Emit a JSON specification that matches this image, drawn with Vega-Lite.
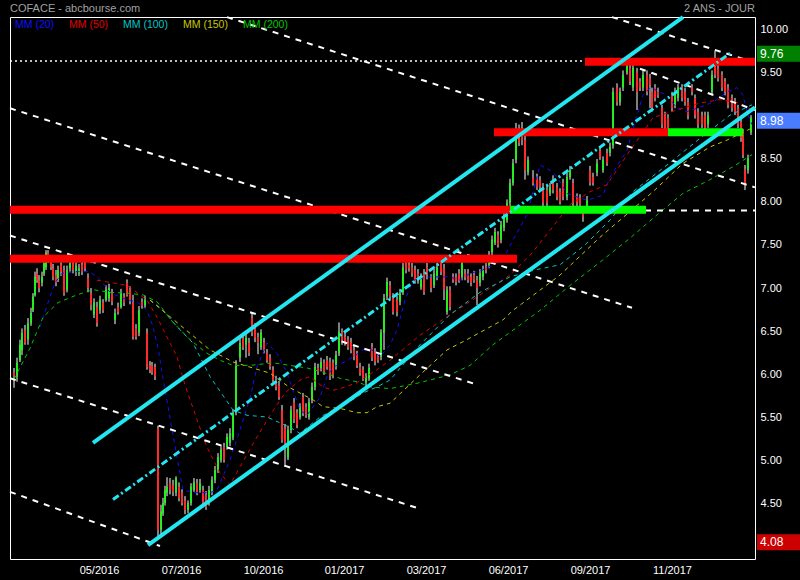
{
  "$schema": "https://vega.github.io/schema/vega-lite/v6.json",
  "width": 745,
  "height": 542,
  "autosize": "none",
  "padding": {"left": 10, "top": 17, "right": 45, "bottom": 21},
  "background": "black",
  "config": {
    "view": {"stroke": "white", "strokeWidth": 1},
    "axis": {"domain": false, "ticks": false, "grid": false, "labelColor": "white", "labelFont": "Liberation Sans", "labelFontSize": 11, "title": null}
  },
  "data": {"values": [{}]},
  "datasets": {
    "candles": [
      {"i":14,"o":6.02,"h":6.07,"l":5.84,"c":5.97},
      {"i":17,"o":5.97,"h":6.19,"l":5.91,"c":6.13},
      {"i":20,"o":6.16,"h":6.40,"l":6.14,"c":6.34},
      {"i":22,"o":6.28,"h":6.53,"l":6.22,"c":6.48},
      {"i":25,"o":6.51,"h":6.57,"l":6.34,"c":6.36},
      {"i":28,"o":6.40,"h":6.65,"l":6.34,"c":6.59},
      {"i":31,"o":6.59,"h":6.77,"l":6.56,"c":6.71},
      {"i":33,"o":6.74,"h":6.94,"l":6.72,"c":6.90},
      {"i":35,"o":6.92,"h":7.19,"l":6.90,"c":7.13},
      {"i":37,"o":7.17,"h":7.23,"l":7.06,"c":7.09},
      {"i":39,"o":7.09,"h":7.15,"l":6.95,"c":7.00},
      {"i":42,"o":7.06,"h":7.19,"l":7.02,"c":7.13},
      {"i":44,"o":7.17,"h":7.35,"l":7.14,"c":7.29},
      {"i":46,"o":7.24,"h":7.44,"l":7.21,"c":7.41},
      {"i":48,"o":7.41,"h":7.44,"l":7.29,"c":7.33},
      {"i":51,"o":7.30,"h":7.35,"l":7.21,"c":7.24},
      {"i":53,"o":7.23,"h":7.28,"l":7.09,"c":7.13},
      {"i":56,"o":7.15,"h":7.21,"l":7.02,"c":7.06},
      {"i":58,"o":7.09,"h":7.26,"l":7.07,"c":7.21},
      {"i":61,"o":7.27,"h":7.30,"l":7.14,"c":7.19},
      {"i":64,"o":7.21,"h":7.26,"l":6.91,"c":6.94},
      {"i":67,"o":6.98,"h":7.26,"l":6.95,"c":7.21},
      {"i":70,"o":7.23,"h":7.35,"l":7.19,"c":7.29},
      {"i":73,"o":7.29,"h":7.35,"l":7.17,"c":7.21},
      {"i":76,"o":7.19,"h":7.30,"l":7.14,"c":7.26},
      {"i":79,"o":7.17,"h":7.28,"l":7.14,"c":7.23},
      {"i":82,"o":7.27,"h":7.33,"l":7.15,"c":7.19},
      {"i":85,"o":7.29,"h":7.33,"l":7.19,"c":7.23},
      {"i":88,"o":7.12,"h":7.17,"l":6.95,"c":7.00},
      {"i":91,"o":6.94,"h":7.00,"l":6.74,"c":6.80},
      {"i":94,"o":6.69,"h":6.88,"l":6.65,"c":6.83},
      {"i":97,"o":6.78,"h":6.84,"l":6.55,"c":6.59},
      {"i":100,"o":6.74,"h":6.91,"l":6.70,"c":6.86},
      {"i":103,"o":6.83,"h":6.87,"l":6.71,"c":6.74},
      {"i":106,"o":6.86,"h":7.03,"l":6.84,"c":6.98},
      {"i":109,"o":6.88,"h":7.05,"l":6.84,"c":7.00},
      {"i":112,"o":6.94,"h":6.99,"l":6.80,"c":6.84},
      {"i":115,"o":6.63,"h":6.76,"l":6.58,"c":6.71},
      {"i":118,"o":6.78,"h":6.83,"l":6.69,"c":6.72},
      {"i":121,"o":6.78,"h":6.99,"l":6.76,"c":6.94},
      {"i":124,"o":6.90,"h":6.94,"l":6.79,"c":6.83},
      {"i":127,"o":7.06,"h":7.10,"l":6.90,"c":6.92},
      {"i":130,"o":6.98,"h":7.02,"l":6.81,"c":6.86},
      {"i":133,"o":6.83,"h":6.92,"l":6.40,"c":6.43},
      {"i":136,"o":6.53,"h":6.58,"l":6.40,"c":6.43},
      {"i":139,"o":6.48,"h":6.79,"l":6.44,"c":6.74},
      {"i":142,"o":6.84,"h":6.88,"l":6.76,"c":6.79},
      {"i":145,"o":6.80,"h":6.91,"l":6.77,"c":6.86},
      {"i":147,"o":6.48,"h":6.53,"l":6.05,"c":6.08},
      {"i":150,"o":6.10,"h":6.15,"l":6.01,"c":6.05},
      {"i":152,"o":6.10,"h":6.14,"l":5.99,"c":6.02},
      {"i":155,"o":6.08,"h":6.12,"l":5.93,"c":5.97},
      {"i":158,"o":5.37,"h":5.40,"l":4.08,"c":4.19},
      {"i":161,"o":4.19,"h":4.48,"l":4.10,"c":4.40},
      {"i":163,"o":4.38,"h":4.56,"l":4.35,"c":4.50},
      {"i":165,"o":4.50,"h":4.70,"l":4.47,"c":4.65},
      {"i":167,"o":4.62,"h":4.80,"l":4.58,"c":4.69},
      {"i":170,"o":4.73,"h":4.79,"l":4.60,"c":4.65},
      {"i":173,"o":4.71,"h":4.77,"l":4.58,"c":4.63},
      {"i":176,"o":4.62,"h":4.81,"l":4.58,"c":4.79},
      {"i":179,"o":4.69,"h":4.74,"l":4.52,"c":4.56},
      {"i":182,"o":4.62,"h":4.66,"l":4.47,"c":4.50},
      {"i":185,"o":4.53,"h":4.58,"l":4.37,"c":4.42},
      {"i":188,"o":4.42,"h":4.53,"l":4.38,"c":4.50},
      {"i":191,"o":4.50,"h":4.73,"l":4.47,"c":4.69},
      {"i":194,"o":4.65,"h":4.79,"l":4.63,"c":4.74},
      {"i":197,"o":4.73,"h":4.78,"l":4.59,"c":4.63},
      {"i":200,"o":4.65,"h":4.78,"l":4.62,"c":4.73},
      {"i":203,"o":4.65,"h":4.70,"l":4.47,"c":4.50},
      {"i":206,"o":4.59,"h":4.64,"l":4.42,"c":4.45},
      {"i":209,"o":4.50,"h":4.70,"l":4.47,"c":4.65},
      {"i":212,"o":4.63,"h":4.81,"l":4.59,"c":4.77},
      {"i":215,"o":4.77,"h":4.93,"l":4.73,"c":4.88},
      {"i":218,"o":4.88,"h":5.08,"l":4.85,"c":5.03},
      {"i":221,"o":5.00,"h":5.16,"l":4.97,"c":5.12},
      {"i":224,"o":5.15,"h":5.20,"l":4.97,"c":5.00},
      {"i":227,"o":5.15,"h":5.31,"l":5.12,"c":5.27},
      {"i":230,"o":5.20,"h":5.37,"l":5.16,"c":5.31},
      {"i":233,"o":5.26,"h":5.59,"l":5.23,"c":5.55},
      {"i":236,"o":5.58,"h":6.16,"l":5.52,"c":6.10},
      {"i":240,"o":6.19,"h":6.42,"l":6.14,"c":6.36},
      {"i":243,"o":6.42,"h":6.48,"l":6.28,"c":6.31},
      {"i":246,"o":6.34,"h":6.47,"l":6.19,"c":6.42},
      {"i":249,"o":6.36,"h":6.42,"l":6.21,"c":6.24},
      {"i":252,"o":6.65,"h":6.72,"l":6.44,"c":6.48},
      {"i":255,"o":6.53,"h":6.59,"l":6.37,"c":6.42},
      {"i":258,"o":6.43,"h":6.48,"l":6.23,"c":6.36},
      {"i":261,"o":6.31,"h":6.52,"l":6.28,"c":6.48},
      {"i":264,"o":6.37,"h":6.42,"l":6.24,"c":6.28},
      {"i":267,"o":6.24,"h":6.29,"l":6.13,"c":6.16},
      {"i":270,"o":6.19,"h":6.23,"l":6.05,"c":6.08},
      {"i":273,"o":6.05,"h":6.09,"l":5.90,"c":5.93},
      {"i":276,"o":5.93,"h":5.98,"l":5.81,"c":5.85},
      {"i":279,"o":5.87,"h":5.92,"l":5.70,"c":5.73},
      {"i":282,"o":5.58,"h":5.64,"l":5.20,"c":5.23},
      {"i":285,"o":5.37,"h":5.42,"l":4.92,"c":5.15},
      {"i":288,"o":5.03,"h":5.40,"l":5.00,"c":5.35},
      {"i":291,"o":5.35,"h":5.63,"l":5.31,"c":5.58},
      {"i":294,"o":5.67,"h":5.72,"l":5.43,"c":5.47},
      {"i":297,"o":5.55,"h":5.59,"l":5.37,"c":5.41},
      {"i":300,"o":5.50,"h":5.66,"l":5.47,"c":5.62},
      {"i":303,"o":5.73,"h":5.78,"l":5.51,"c":5.55},
      {"i":306,"o":5.62,"h":5.66,"l":5.49,"c":5.52},
      {"i":309,"o":5.50,"h":5.72,"l":5.47,"c":5.67},
      {"i":312,"o":5.70,"h":5.90,"l":5.66,"c":5.85},
      {"i":315,"o":5.85,"h":6.13,"l":5.81,"c":6.08},
      {"i":318,"o":6.07,"h":6.12,"l":5.99,"c":6.02},
      {"i":321,"o":6.07,"h":6.19,"l":6.03,"c":6.14},
      {"i":324,"o":6.13,"h":6.17,"l":5.99,"c":6.02},
      {"i":327,"o":6.16,"h":6.21,"l":6.05,"c":6.08},
      {"i":330,"o":6.14,"h":6.19,"l":5.93,"c":5.97},
      {"i":333,"o":6.13,"h":6.17,"l":5.95,"c":5.99},
      {"i":336,"o":6.08,"h":6.27,"l":6.05,"c":6.22},
      {"i":339,"o":6.24,"h":6.60,"l":6.21,"c":6.49},
      {"i":342,"o":6.49,"h":6.53,"l":6.34,"c":6.37},
      {"i":345,"o":6.43,"h":6.48,"l":6.33,"c":6.36},
      {"i":348,"o":6.40,"h":6.44,"l":6.28,"c":6.31},
      {"i":351,"o":6.37,"h":6.42,"l":6.24,"c":6.28},
      {"i":354,"o":6.28,"h":6.33,"l":6.16,"c":6.20},
      {"i":357,"o":6.22,"h":6.27,"l":6.07,"c":6.10},
      {"i":360,"o":6.08,"h":6.13,"l":5.98,"c":6.01},
      {"i":363,"o":6.05,"h":6.09,"l":5.92,"c":5.95},
      {"i":366,"o":5.90,"h":6.01,"l":5.86,"c":5.97},
      {"i":369,"o":5.95,"h":6.12,"l":5.92,"c":6.07},
      {"i":372,"o":6.31,"h":6.36,"l":6.15,"c":6.19},
      {"i":375,"o":6.26,"h":6.30,"l":6.10,"c":6.14},
      {"i":378,"o":6.20,"h":6.24,"l":6.13,"c":6.16},
      {"i":381,"o":6.20,"h":6.52,"l":6.16,"c":6.48},
      {"i":384,"o":6.48,"h":6.93,"l":6.28,"c":6.88},
      {"i":387,"o":6.90,"h":7.12,"l":6.86,"c":7.07},
      {"i":390,"o":7.03,"h":7.08,"l":6.86,"c":6.90},
      {"i":393,"o":6.90,"h":6.94,"l":6.69,"c":6.72},
      {"i":397,"o":6.86,"h":6.91,"l":6.67,"c":6.72},
      {"i":400,"o":6.84,"h":6.99,"l":6.80,"c":6.94},
      {"i":403,"o":6.95,"h":7.29,"l":6.92,"c":7.24},
      {"i":406,"o":7.29,"h":7.34,"l":7.17,"c":7.21},
      {"i":409,"o":7.27,"h":7.31,"l":7.19,"c":7.23},
      {"i":412,"o":7.24,"h":7.29,"l":7.13,"c":7.17},
      {"i":415,"o":7.21,"h":7.26,"l":7.05,"c":7.09},
      {"i":418,"o":7.17,"h":7.22,"l":7.05,"c":7.09},
      {"i":421,"o":7.01,"h":7.17,"l":6.98,"c":7.13},
      {"i":424,"o":7.17,"h":7.22,"l":6.92,"c":6.95},
      {"i":427,"o":7.24,"h":7.29,"l":7.10,"c":7.15},
      {"i":431,"o":7.12,"h":7.16,"l":6.95,"c":7.00},
      {"i":434,"o":7.03,"h":7.22,"l":7.00,"c":7.17},
      {"i":437,"o":7.13,"h":7.29,"l":7.09,"c":7.24},
      {"i":441,"o":7.29,"h":7.34,"l":7.15,"c":7.19},
      {"i":444,"o":7.23,"h":7.28,"l":6.86,"c":6.98},
      {"i":447,"o":6.72,"h":7.02,"l":6.69,"c":6.98},
      {"i":450,"o":6.98,"h":7.02,"l":6.74,"c":6.78},
      {"i":453,"o":7.13,"h":7.17,"l":7.06,"c":7.09},
      {"i":456,"o":7.13,"h":7.17,"l":7.03,"c":7.07},
      {"i":459,"o":7.17,"h":7.22,"l":7.06,"c":7.09},
      {"i":462,"o":7.13,"h":7.34,"l":7.09,"c":7.29},
      {"i":465,"o":7.17,"h":7.22,"l":7.09,"c":7.13},
      {"i":468,"o":7.17,"h":7.22,"l":7.06,"c":7.09},
      {"i":471,"o":7.13,"h":7.17,"l":7.02,"c":7.06},
      {"i":474,"o":7.15,"h":7.20,"l":7.06,"c":7.09},
      {"i":477,"o":7.09,"h":7.14,"l":6.80,"c":7.00},
      {"i":480,"o":7.06,"h":7.22,"l":7.02,"c":7.17},
      {"i":483,"o":7.13,"h":7.26,"l":7.09,"c":7.21},
      {"i":486,"o":7.24,"h":7.29,"l":7.17,"c":7.21},
      {"i":489,"o":7.27,"h":7.43,"l":7.23,"c":7.38},
      {"i":492,"o":7.42,"h":7.61,"l":7.38,"c":7.56},
      {"i":495,"o":7.53,"h":7.70,"l":7.50,"c":7.65},
      {"i":498,"o":7.62,"h":7.66,"l":7.47,"c":7.50},
      {"i":501,"o":7.56,"h":7.78,"l":7.52,"c":7.73},
      {"i":504,"o":7.70,"h":7.90,"l":7.66,"c":7.85},
      {"i":507,"o":7.79,"h":8.03,"l":7.76,"c":7.99},
      {"i":510,"o":7.99,"h":8.27,"l":7.95,"c":8.22},
      {"i":513,"o":8.22,"h":8.50,"l":8.19,"c":8.45},
      {"i":516,"o":8.49,"h":8.92,"l":8.45,"c":8.78},
      {"i":519,"o":8.76,"h":8.90,"l":8.65,"c":8.69},
      {"i":522,"o":8.84,"h":8.93,"l":8.66,"c":8.72},
      {"i":525,"o":8.72,"h":8.84,"l":8.26,"c":8.37},
      {"i":528,"o":8.35,"h":8.53,"l":8.31,"c":8.49},
      {"i":533,"o":8.28,"h":8.37,"l":8.19,"c":8.22},
      {"i":537,"o":8.28,"h":8.33,"l":8.14,"c":8.17},
      {"i":540,"o":8.26,"h":8.30,"l":8.14,"c":8.17},
      {"i":543,"o":8.17,"h":8.22,"l":7.95,"c":7.99},
      {"i":547,"o":8.14,"h":8.19,"l":7.95,"c":7.99},
      {"i":550,"o":8.10,"h":8.22,"l":8.07,"c":8.17},
      {"i":553,"o":8.22,"h":8.31,"l":8.10,"c":8.14},
      {"i":557,"o":8.17,"h":8.22,"l":8.02,"c":8.06},
      {"i":560,"o":8.12,"h":8.16,"l":7.97,"c":8.00},
      {"i":563,"o":8.22,"h":8.27,"l":8.02,"c":8.06},
      {"i":567,"o":8.06,"h":8.34,"l":8.02,"c":8.29},
      {"i":570,"o":8.29,"h":8.42,"l":8.26,"c":8.37},
      {"i":573,"o":8.22,"h":8.27,"l":7.95,"c":7.99},
      {"i":577,"o":8.06,"h":8.10,"l":7.95,"c":7.99},
      {"i":580,"o":8.05,"h":8.09,"l":7.93,"c":7.97},
      {"i":583,"o":7.91,"h":7.95,"l":7.77,"c":7.83},
      {"i":587,"o":7.94,"h":8.07,"l":7.91,"c":8.02},
      {"i":590,"o":8.37,"h":8.42,"l":8.19,"c":8.22},
      {"i":593,"o":8.29,"h":8.34,"l":8.19,"c":8.22},
      {"i":597,"o":8.34,"h":8.50,"l":8.30,"c":8.45},
      {"i":600,"o":8.60,"h":8.65,"l":8.49,"c":8.52},
      {"i":603,"o":8.37,"h":8.53,"l":8.34,"c":8.49},
      {"i":607,"o":8.57,"h":8.62,"l":8.42,"c":8.45},
      {"i":610,"o":8.57,"h":8.69,"l":8.53,"c":8.64},
      {"i":613,"o":8.66,"h":9.33,"l":8.62,"c":9.28},
      {"i":617,"o":9.33,"h":9.38,"l":9.12,"c":9.16},
      {"i":620,"o":9.16,"h":9.33,"l":9.12,"c":9.28},
      {"i":623,"o":9.33,"h":9.53,"l":9.29,"c":9.48},
      {"i":627,"o":9.51,"h":9.64,"l":9.48,"c":9.59},
      {"i":630,"o":9.56,"h":9.61,"l":9.36,"c":9.40},
      {"i":633,"o":9.33,"h":9.61,"l":9.29,"c":9.56},
      {"i":637,"o":9.51,"h":9.56,"l":9.07,"c":9.28},
      {"i":640,"o":9.40,"h":9.44,"l":9.29,"c":9.33},
      {"i":643,"o":9.33,"h":9.53,"l":9.29,"c":9.48},
      {"i":647,"o":9.48,"h":9.53,"l":9.24,"c":9.28},
      {"i":650,"o":9.44,"h":9.49,"l":9.09,"c":9.36},
      {"i":652,"o":9.28,"h":9.33,"l":9.05,"c":9.09},
      {"i":655,"o":9.33,"h":9.37,"l":9.17,"c":9.21},
      {"i":658,"o":9.28,"h":9.33,"l":9.21,"c":9.24},
      {"i":662,"o":9.09,"h":9.13,"l":8.86,"c":8.90},
      {"i":665,"o":9.01,"h":9.05,"l":8.83,"c":8.86},
      {"i":668,"o":8.98,"h":9.02,"l":8.83,"c":8.86},
      {"i":672,"o":9.24,"h":9.28,"l":9.05,"c":9.09},
      {"i":675,"o":9.13,"h":9.33,"l":9.09,"c":9.28},
      {"i":678,"o":9.21,"h":9.37,"l":9.17,"c":9.33},
      {"i":682,"o":9.33,"h":9.37,"l":9.17,"c":9.21},
      {"i":685,"o":9.28,"h":9.33,"l":9.12,"c":9.16},
      {"i":688,"o":9.16,"h":9.21,"l":8.96,"c":9.01},
      {"i":692,"o":9.33,"h":9.37,"l":9.24,"c":9.28},
      {"i":695,"o":9.21,"h":9.25,"l":8.97,"c":9.01},
      {"i":698,"o":9.05,"h":9.09,"l":8.86,"c":8.90},
      {"i":702,"o":9.01,"h":9.05,"l":8.86,"c":8.90},
      {"i":705,"o":9.01,"h":9.05,"l":8.83,"c":8.86},
      {"i":708,"o":8.90,"h":9.05,"l":8.86,"c":9.01},
      {"i":712,"o":9.28,"h":9.53,"l":9.24,"c":9.48},
      {"i":715,"o":9.59,"h":9.76,"l":9.44,"c":9.48},
      {"i":718,"o":9.56,"h":9.60,"l":9.40,"c":9.44},
      {"i":722,"o":9.48,"h":9.52,"l":9.29,"c":9.33},
      {"i":725,"o":9.40,"h":9.44,"l":9.24,"c":9.28},
      {"i":728,"o":9.33,"h":9.37,"l":9.09,"c":9.13},
      {"i":732,"o":9.21,"h":9.25,"l":9.05,"c":9.09},
      {"i":735,"o":9.16,"h":9.21,"l":9.01,"c":9.05},
      {"i":738,"o":9.09,"h":9.13,"l":8.86,"c":8.90},
      {"i":741,"o":8.93,"h":8.97,"l":8.70,"c":8.74},
      {"i":743,"o":8.81,"h":8.85,"l":8.51,"c":8.55},
      {"i":745,"o":8.38,"h":8.43,"l":8.14,"c":8.20},
      {"i":748,"o":8.37,"h":8.55,"l":8.33,"c":8.51},
      {"i":751,"o":8.81,"h":9.01,"l":8.78,"c":8.98}
    ],
    "ma": [
      {"m":"MM20","i":40,"p":6.55},{"m":"MM20","i":45,"p":6.72},{"m":"MM20","i":50,"p":6.90},{"m":"MM20","i":55,"p":7.06},{"m":"MM20","i":62,"p":7.17},{"m":"MM20","i":75,"p":7.19},{"m":"MM20","i":88,"p":7.19},{"m":"MM20","i":95,"p":7.15},{"m":"MM20","i":102,"p":7.07},{"m":"MM20","i":110,"p":6.95},{"m":"MM20","i":127,"p":6.86},{"m":"MM20","i":137,"p":6.84},{"m":"MM20","i":147,"p":6.74},{"m":"MM20","i":153,"p":6.55},{"m":"MM20","i":158,"p":6.31},{"m":"MM20","i":163,"p":5.95},{"m":"MM20","i":170,"p":5.49},{"m":"MM20","i":177,"p":5.03},{"m":"MM20","i":183,"p":4.65},{"m":"MM20","i":195,"p":4.62},{"m":"MM20","i":210,"p":4.62},{"m":"MM20","i":217,"p":4.65},{"m":"MM20","i":230,"p":5.00},{"m":"MM20","i":240,"p":5.35},{"m":"MM20","i":250,"p":5.72},{"m":"MM20","i":257,"p":6.08},{"m":"MM20","i":267,"p":6.36},{"m":"MM20","i":277,"p":6.24},{"m":"MM20","i":287,"p":6.01},{"m":"MM20","i":293,"p":5.81},{"m":"MM20","i":300,"p":5.58},{"m":"MM20","i":307,"p":5.52},{"m":"MM20","i":320,"p":5.73},{"m":"MM20","i":327,"p":5.97},{"m":"MM20","i":333,"p":6.08},{"m":"MM20","i":343,"p":6.13},{"m":"MM20","i":353,"p":6.20},{"m":"MM20","i":363,"p":6.28},{"m":"MM20","i":372,"p":6.28},{"m":"MM20","i":380,"p":6.20},{"m":"MM20","i":390,"p":6.34},{"m":"MM20","i":397,"p":6.51},{"m":"MM20","i":405,"p":6.86},{"m":"MM20","i":413,"p":7.09},{"m":"MM20","i":430,"p":7.13},{"m":"MM20","i":450,"p":7.13},{"m":"MM20","i":460,"p":7.09},{"m":"MM20","i":470,"p":7.17},{"m":"MM20","i":483,"p":7.21},{"m":"MM20","i":503,"p":7.33},{"m":"MM20","i":513,"p":7.56},{"m":"MM20","i":527,"p":7.85},{"m":"MM20","i":540,"p":8.43},{"m":"MM20","i":550,"p":8.37},{"m":"MM20","i":557,"p":8.29},{"m":"MM20","i":567,"p":8.10},{"m":"MM20","i":577,"p":8.06},{"m":"MM20","i":587,"p":8.02},{"m":"MM20","i":603,"p":8.08},{"m":"MM20","i":610,"p":8.29},{"m":"MM20","i":627,"p":8.60},{"m":"MM20","i":637,"p":9.01},{"m":"MM20","i":643,"p":9.24},{"m":"MM20","i":650,"p":9.33},{"m":"MM20","i":667,"p":9.24},{"m":"MM20","i":677,"p":9.09},{"m":"MM20","i":687,"p":9.05},{"m":"MM20","i":697,"p":9.09},{"m":"MM20","i":713,"p":9.16},{"m":"MM20","i":727,"p":9.28},{"m":"MM20","i":737,"p":9.33},{"m":"MM20","i":743,"p":9.24},{"m":"MM20","i":748,"p":9.01},{"m":"MM20","i":752,"p":8.90},
      {"m":"MM50","i":97,"p":7.09},{"m":"MM50","i":113,"p":7.06},{"m":"MM50","i":127,"p":7.03},{"m":"MM50","i":133,"p":6.98},{"m":"MM50","i":147,"p":6.86},{"m":"MM50","i":157,"p":6.66},{"m":"MM50","i":167,"p":6.43},{"m":"MM50","i":177,"p":6.20},{"m":"MM50","i":185,"p":5.87},{"m":"MM50","i":197,"p":5.47},{"m":"MM50","i":207,"p":5.15},{"m":"MM50","i":220,"p":4.85},{"m":"MM50","i":230,"p":4.71},{"m":"MM50","i":240,"p":4.92},{"m":"MM50","i":255,"p":5.23},{"m":"MM50","i":270,"p":5.52},{"m":"MM50","i":285,"p":5.78},{"m":"MM50","i":300,"p":5.93},{"m":"MM50","i":310,"p":5.97},{"m":"MM50","i":323,"p":5.85},{"m":"MM50","i":333,"p":5.81},{"m":"MM50","i":343,"p":5.84},{"m":"MM50","i":357,"p":5.90},{"m":"MM50","i":377,"p":6.05},{"m":"MM50","i":390,"p":6.16},{"m":"MM50","i":420,"p":6.45},{"m":"MM50","i":450,"p":6.69},{"m":"MM50","i":480,"p":6.92},{"m":"MM50","i":510,"p":7.15},{"m":"MM50","i":530,"p":7.38},{"m":"MM50","i":550,"p":7.67},{"m":"MM50","i":570,"p":7.97},{"m":"MM50","i":590,"p":8.12},{"m":"MM50","i":607,"p":8.20},{"m":"MM50","i":630,"p":8.60},{"m":"MM50","i":653,"p":8.98},{"m":"MM50","i":677,"p":9.07},{"m":"MM50","i":700,"p":9.15},{"m":"MM50","i":720,"p":9.19},{"m":"MM50","i":740,"p":9.15},{"m":"MM50","i":752,"p":9.07},
      {"m":"MM100","i":150,"p":6.86},{"m":"MM100","i":163,"p":6.74},{"m":"MM100","i":177,"p":6.55},{"m":"MM100","i":193,"p":6.36},{"m":"MM100","i":210,"p":5.97},{"m":"MM100","i":233,"p":5.58},{"m":"MM100","i":247,"p":5.52},{"m":"MM100","i":267,"p":5.50},{"m":"MM100","i":290,"p":5.38},{"m":"MM100","i":300,"p":5.31},{"m":"MM100","i":320,"p":5.50},{"m":"MM100","i":347,"p":5.66},{"m":"MM100","i":363,"p":5.78},{"m":"MM100","i":377,"p":5.85},{"m":"MM100","i":390,"p":5.93},{"m":"MM100","i":420,"p":6.34},{"m":"MM100","i":450,"p":6.69},{"m":"MM100","i":480,"p":6.95},{"m":"MM100","i":510,"p":7.13},{"m":"MM100","i":535,"p":7.21},{"m":"MM100","i":560,"p":7.27},{"m":"MM100","i":585,"p":7.50},{"m":"MM100","i":610,"p":7.79},{"m":"MM100","i":633,"p":8.12},{"m":"MM100","i":667,"p":8.43},{"m":"MM100","i":700,"p":8.74},{"m":"MM100","i":730,"p":9.01},{"m":"MM100","i":752,"p":9.13},
      {"m":"MM150","i":150,"p":6.86},{"m":"MM150","i":180,"p":6.57},{"m":"MM150","i":210,"p":6.28},{"m":"MM150","i":233,"p":6.14},{"m":"MM150","i":250,"p":6.08},{"m":"MM150","i":270,"p":6.01},{"m":"MM150","i":290,"p":5.84},{"m":"MM150","i":313,"p":5.70},{"m":"MM150","i":323,"p":5.62},{"m":"MM150","i":340,"p":5.60},{"m":"MM150","i":357,"p":5.55},{"m":"MM150","i":367,"p":5.55},{"m":"MM150","i":377,"p":5.62},{"m":"MM150","i":390,"p":5.66},{"m":"MM150","i":420,"p":5.99},{"m":"MM150","i":447,"p":6.28},{"m":"MM150","i":467,"p":6.40},{"m":"MM150","i":503,"p":6.63},{"m":"MM150","i":513,"p":6.74},{"m":"MM150","i":560,"p":7.15},{"m":"MM150","i":600,"p":7.59},{"m":"MM150","i":617,"p":7.76},{"m":"MM150","i":653,"p":8.12},{"m":"MM150","i":683,"p":8.45},{"m":"MM150","i":710,"p":8.64},{"m":"MM150","i":727,"p":8.72},{"m":"MM150","i":752,"p":8.86},
      {"m":"MM200","i":14,"p":5.94},{"m":"MM200","i":30,"p":6.30},{"m":"MM200","i":43,"p":6.66},{"m":"MM200","i":58,"p":6.83},{"m":"MM200","i":77,"p":6.92},{"m":"MM200","i":93,"p":6.98},{"m":"MM200","i":110,"p":6.95},{"m":"MM200","i":127,"p":6.94},{"m":"MM200","i":143,"p":6.92},{"m":"MM200","i":157,"p":6.84},{"m":"MM200","i":173,"p":6.60},{"m":"MM200","i":190,"p":6.40},{"m":"MM200","i":207,"p":6.24},{"m":"MM200","i":220,"p":6.16},{"m":"MM200","i":233,"p":6.10},{"m":"MM200","i":250,"p":6.10},{"m":"MM200","i":273,"p":6.13},{"m":"MM200","i":290,"p":6.10},{"m":"MM200","i":307,"p":6.07},{"m":"MM200","i":323,"p":6.02},{"m":"MM200","i":340,"p":5.95},{"m":"MM200","i":357,"p":5.91},{"m":"MM200","i":370,"p":5.85},{"m":"MM200","i":390,"p":5.83},{"m":"MM200","i":420,"p":5.90},{"m":"MM200","i":450,"p":5.99},{"m":"MM200","i":470,"p":6.10},{"m":"MM200","i":493,"p":6.34},{"m":"MM200","i":513,"p":6.51},{"m":"MM200","i":540,"p":6.74},{"m":"MM200","i":570,"p":7.03},{"m":"MM200","i":600,"p":7.30},{"m":"MM200","i":630,"p":7.58},{"m":"MM200","i":660,"p":7.88},{"m":"MM200","i":683,"p":8.10},{"m":"MM200","i":710,"p":8.26},{"m":"MM200","i":733,"p":8.41},{"m":"MM200","i":752,"p":8.55}
    ],
    "wlines": [
      {"id":"w1","i":10,"p":9.09},{"id":"w1","i":632,"p":6.77},
      {"id":"w2","i":10,"p":7.61},{"id":"w2","i":476,"p":5.88},
      {"id":"w3","i":10,"p":5.95},{"id":"w3","i":418,"p":4.44},
      {"id":"w4","i":10,"p":4.63},{"id":"w4","i":160,"p":4.00},
      {"id":"w5","i":227,"p":10.15},{"id":"w5","i":755,"p":8.17},
      {"id":"w6","i":612,"p":10.15},{"id":"w6","i":755,"p":9.62},
      {"id":"w7","i":640,"p":9.55},{"id":"w7","i":755,"p":9.07},
      {"id":"w8","i":645,"p":7.90},{"id":"w8","i":755,"p":7.90}
    ],
    "hdots": [
      {"id":"h1","i":10,"p":9.64},{"id":"h1","i":755,"p":9.64}
    ],
    "levels": [
      {"kind":"res","a":10,"b":517,"p":7.34},
      {"kind":"res","a":10,"b":510,"p":7.91},
      {"kind":"res","a":494,"b":668,"p":8.81},
      {"kind":"res","a":585,"b":755,"p":9.63},
      {"kind":"sup","a":510,"b":646,"p":7.91},
      {"kind":"sup","a":668,"b":743,"p":8.81}
    ],
    "channel": [
      {"id":"up","i":93,"p":5.20},{"id":"up","i":683,"p":10.15},
      {"id":"down","i":148,"p":4.01},{"id":"down","i":755,"p":9.10}
    ],
    "mid": [
      {"i":113,"p":4.54},{"i":730,"p":9.73}
    ],
    "tags": [
      {"kind":"high","p":9.76},
      {"kind":"last","p":8.98},
      {"kind":"low","p":4.08}
    ]
  },
  "layer": [
    {
      "data": {"name": "candles"},
      "mark": {"type": "rule", "color": "white", "strokeWidth": 1},
      "encoding": {
        "x": {"field": "i", "type": "quantitative", "scale": {"domain": [10, 755], "nice": false, "zero": false, "padding": 0},
              "axis": {"orient": "bottom", "values": [99, 181, 263, 344, 426, 508, 590, 672], "labelPadding": 5,
                       "labelExpr": "datum.value == 99 ? '05/2016' : datum.value == 181 ? '07/2016' : datum.value == 263 ? '10/2016' : datum.value == 344 ? '01/2017' : datum.value == 426 ? '03/2017' : datum.value == 508 ? '06/2017' : datum.value == 590 ? '09/2017' : '11/2017'"}},
        "y": {"field": "l", "type": "quantitative", "scale": {"domain": [3.849, 10.151], "nice": false, "zero": false, "padding": 0},
              "axis": {"orient": "right", "values": [4.5, 5, 5.5, 6, 6.5, 7, 7.5, 8, 8.5, 9.5, 10], "format": ".2f", "labelPadding": 5}},
        "y2": {"field": "h"}
      }
    },
    {
      "data": {"name": "candles"},
      "mark": {"type": "bar", "size": 2},
      "encoding": {
        "x": {"field": "i", "type": "quantitative"},
        "y": {"field": "o", "type": "quantitative"},
        "y2": {"field": "c"},
        "color": {"condition": {"test": "datum.c >= datum.o", "value": "#22ee22"}, "value": "#ff2a2a"}
      }
    },
    {
      "data": {"name": "ma"},
      "mark": {"type": "line", "strokeWidth": 1, "strokeDash": [4, 4]},
      "encoding": {
        "x": {"field": "i", "type": "quantitative"},
        "y": {"field": "p", "type": "quantitative"},
        "color": {"field": "m", "type": "nominal", "legend": null,
                  "scale": {"domain": ["MM20", "MM50", "MM100", "MM150", "MM200"], "range": ["#1010ff", "#e00000", "#00c8c8", "#c8c800", "#00c800"]}}
      }
    },
    {
      "data": {"name": "wlines"},
      "mark": {"type": "line", "color": "white", "strokeWidth": 2, "strokeDash": [6, 6]},
      "encoding": {
        "x": {"field": "i", "type": "quantitative"},
        "y": {"field": "p", "type": "quantitative"},
        "detail": {"field": "id"}
      }
    },
    {
      "data": {"name": "hdots"},
      "mark": {"type": "line", "color": "white", "strokeWidth": 1.5, "strokeDash": [2, 3]},
      "encoding": {
        "x": {"field": "i", "type": "quantitative"},
        "y": {"field": "p", "type": "quantitative"},
        "detail": {"field": "id"}
      }
    },
    {
      "data": {"name": "levels"},
      "mark": {"type": "rule", "strokeWidth": 8},
      "encoding": {
        "x": {"field": "a", "type": "quantitative"},
        "x2": {"field": "b"},
        "y": {"field": "p", "type": "quantitative"},
        "color": {"field": "kind", "type": "nominal", "legend": null,
                  "scale": {"domain": ["res", "sup"], "range": ["#ff0000", "#00ff00"]}}
      }
    },
    {
      "data": {"name": "channel"},
      "mark": {"type": "line", "color": "#22e6f0", "strokeWidth": 4},
      "encoding": {
        "x": {"field": "i", "type": "quantitative"},
        "y": {"field": "p", "type": "quantitative"},
        "detail": {"field": "id"}
      }
    },
    {
      "data": {"name": "mid"},
      "mark": {"type": "line", "color": "#22e6f0", "strokeWidth": 3, "strokeDash": [7, 3, 2, 3]},
      "encoding": {
        "x": {"field": "i", "type": "quantitative"},
        "y": {"field": "p", "type": "quantitative"}
      }
    },
    {
      "data": {"name": "tags"},
      "mark": {"type": "bar", "orient": "horizontal", "size": 16, "yOffset": 3},
      "encoding": {
        "x": {"datum": 757},
        "x2": {"datum": 800},
        "y": {"field": "p", "type": "quantitative"},
        "color": {"field": "kind", "type": "nominal", "legend": null,
                  "scale": {"domain": ["high", "last", "low"], "range": ["#008000", "#4a7cff", "#cc0000"]}}
      }
    },
    {
      "data": {"name": "tags"},
      "mark": {"type": "text", "align": "left", "baseline": "middle", "color": "white", "font": "Liberation Sans", "fontSize": 12, "yOffset": 3},
      "encoding": {
        "x": {"datum": 760},
        "y": {"field": "p", "type": "quantitative"},
        "text": {"field": "p", "type": "quantitative", "format": ".2f"}
      }
    },
    {
      "mark": {"type": "text", "align": "left", "baseline": "middle", "color": "#a0a0a0", "font": "Liberation Sans", "fontSize": 11, "text": "COFACE - abcbourse.com"},
      "encoding": {"x": {"datum": 10}, "y": {"datum": 10.244}}
    },
    {
      "mark": {"type": "text", "align": "right", "baseline": "middle", "color": "#a0a0a0", "font": "Liberation Sans", "fontSize": 11, "text": "2 ANS - JOUR"},
      "encoding": {"x": {"datum": 755}, "y": {"datum": 10.244}}
    },
    {
      "mark": {"type": "text", "align": "left", "baseline": "middle", "color": "#1010ff", "font": "Liberation Sans", "fontSize": 10.5, "text": "MM (20)"},
      "encoding": {"x": {"datum": 15}, "y": {"datum": 10.058}}
    },
    {
      "mark": {"type": "text", "align": "left", "baseline": "middle", "color": "#e00000", "font": "Liberation Sans", "fontSize": 10.5, "text": "MM (50)"},
      "encoding": {"x": {"datum": 69}, "y": {"datum": 10.058}}
    },
    {
      "mark": {"type": "text", "align": "left", "baseline": "middle", "color": "#00c8c8", "font": "Liberation Sans", "fontSize": 10.5, "text": "MM (100)"},
      "encoding": {"x": {"datum": 123}, "y": {"datum": 10.058}}
    },
    {
      "mark": {"type": "text", "align": "left", "baseline": "middle", "color": "#c8c800", "font": "Liberation Sans", "fontSize": 10.5, "text": "MM (150)"},
      "encoding": {"x": {"datum": 183}, "y": {"datum": 10.058}}
    },
    {
      "mark": {"type": "text", "align": "left", "baseline": "middle", "color": "#00c800", "font": "Liberation Sans", "fontSize": 10.5, "text": "MM (200)"},
      "encoding": {"x": {"datum": 243}, "y": {"datum": 10.058}}
    }
  ],
  "resolve": {"scale": {"color": "independent"}}
}
